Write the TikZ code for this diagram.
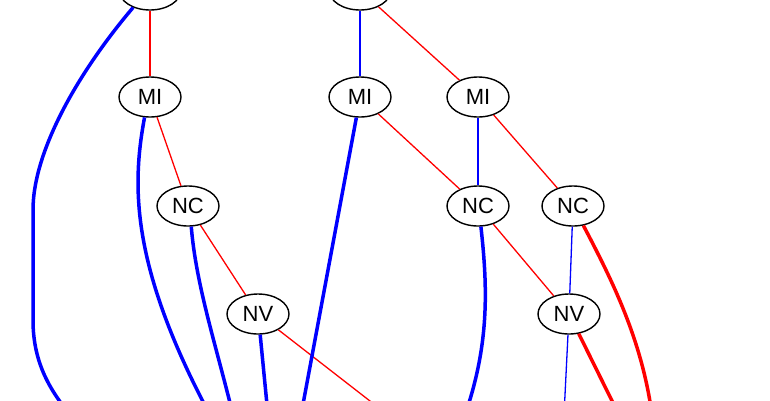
\documentclass[tikz,border=0pt]{standalone}
\usepackage{fontspec}
\setmainfont{Liberation Sans}
\usetikzlibrary{shapes.geometric}

\tikzset{
	var/.style={ellipse,draw,line width=1.4pt,minimum width=62pt,minimum height=40pt,inner sep=0pt,font=\fontsize{22}{26}\selectfont},
	lo/.style={blue,line width=1.3pt},
	hi/.style={red,line width=1.3pt},
	lob/.style={blue,line width=3.5pt},
	hib/.style={red,line width=3.5pt}
}

\begin{document}
\begin{tikzpicture}[x=1pt,y=-1pt]
\useasboundingbox (0,0) rectangle (770,400);
\clip (0,0) rectangle (770,400);
% nodes
\node[var] (a) at (150,-10) {};
\node[var] (b) at (360,-10) {};
\node[var] (mi1) at (150,97) {MI};
\node[var] (mi2) at (360,97) {MI};
\node[var] (mi3) at (478,97) {MI};
\node[var] (nc1) at (188,206) {NC};
\node[var] (nc2) at (478,206) {NC};
\node[var] (nc3) at (573,206) {NC};
\node[var] (nv1) at (258,314) {NV};
\node[var] (nv2) at (569,314) {NV};
% loose ends below the picture
\coordinate (e1) at (70,415);
\coordinate (e2) at (210,415);
\coordinate (e3) at (233,415);
\coordinate (e4) at (268,415);
\coordinate (e5) at (301,415);
\coordinate (e6) at (388,415);
\coordinate (e7) at (465,415);
\coordinate (e8) at (564,415);
\coordinate (e9) at (619,415);
\coordinate (e10) at (652,415);
% thin edges
\draw[hi] (a) -- (mi1);
\draw[lo] (b) -- (mi2);
\draw[hi] (b) -- (mi3);
\draw[hi] (mi1) -- (nc1);
\draw[hi] (mi2) -- (nc2);
\draw[lo] (mi3) -- (nc2);
\draw[hi] (mi3) -- (nc3);
\draw[hi] (nc1) -- (nv1);
\draw[hi] (nc2) -- (nv2);
\draw[lo] (nc3) -- (nv2);
\draw[hi] (nv1) -- (e6);
\draw[lo] (nv2) -- (e8);
% thick edges
\draw[lob] (a.226) .. controls (80,70) and (33,150) .. (33,210) -- (33,320) .. controls (33,365) and (52,392) .. (e1);
\draw[lob] (mi1.255) .. controls (132,185) and (130,265) .. (e2);
\draw[lob] (nc1.279) .. controls (196,285) and (216,345) .. (e3);
\draw[lob] (nv1.276) -- (e4);
\draw[lob] (mi2.260) -- (e5);
\draw[lob] (nc2.278) .. controls (488,290) and (489,345) .. (e7);
\draw[hib] (nv2) -- (e9);
\draw[hib] (nc3.298) .. controls (612,280) and (642,340) .. (e10);
\end{tikzpicture}
\end{document}
